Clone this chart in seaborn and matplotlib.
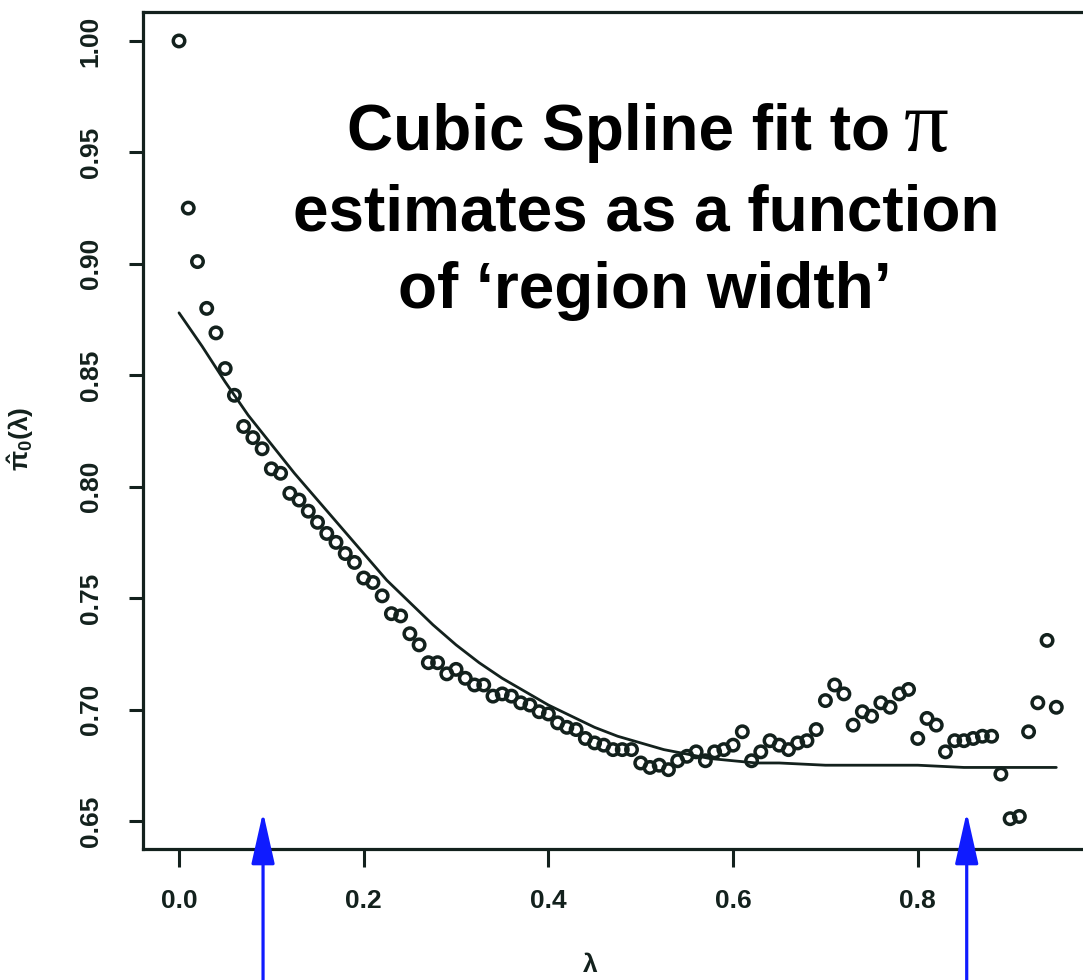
import numpy as np
import pandas as pd
import matplotlib
matplotlib.use("Agg")
import matplotlib.pyplot as plt
import seaborn as sns

# ---- data ----
lam = [round(0.01 * i, 2) for i in range(96)]
pi0_hat = [1.000, 0.925, 0.901, 0.880, 0.869, 0.853, 0.841, 0.827, 0.822, 0.817,
           0.808, 0.806, 0.797, 0.794, 0.789, 0.784, 0.779, 0.775, 0.770, 0.766,
           0.759, 0.757, 0.751, 0.743, 0.742, 0.734, 0.729, 0.721, 0.721, 0.716,
           0.718, 0.714, 0.711, 0.711, 0.706, 0.707, 0.706, 0.703, 0.702, 0.699,
           0.698, 0.694, 0.692, 0.691, 0.687, 0.685, 0.684, 0.682, 0.682, 0.682,
           0.676, 0.674, 0.675, 0.673, 0.677, 0.679, 0.681, 0.677, 0.681, 0.682,
           0.684, 0.690, 0.677, 0.681, 0.686, 0.684, 0.682, 0.685, 0.686, 0.691,
           0.704, 0.711, 0.707, 0.693, 0.699, 0.697, 0.703, 0.701, 0.707, 0.709,
           0.687, 0.696, 0.693, 0.681, 0.686, 0.686, 0.687, 0.688, 0.688, 0.671,
           0.651, 0.652, 0.690, 0.703, 0.731, 0.701]

spline_lam = [0.000, 0.025, 0.050, 0.075, 0.100, 0.125, 0.150, 0.175, 0.200, 0.225,
              0.250, 0.275, 0.300, 0.325, 0.350, 0.375, 0.400, 0.425, 0.450, 0.475,
              0.500, 0.525, 0.550, 0.575, 0.600, 0.625, 0.650, 0.700, 0.750, 0.800,
              0.850, 0.900, 0.950]
spline_fit = [0.878, 0.863, 0.847, 0.832, 0.819, 0.806, 0.794, 0.782, 0.770, 0.758,
              0.748, 0.738, 0.729, 0.721, 0.714, 0.708, 0.702, 0.697, 0.692, 0.688,
              0.685, 0.682, 0.680, 0.678, 0.677, 0.676, 0.676, 0.675, 0.675, 0.675,
              0.674, 0.674, 0.674]

x_ticks = [0.0, 0.2, 0.4, 0.6, 0.8]
x_tick_labels = ["0.0", "0.2", "0.4", "0.6", "0.8"]
y_ticks = [0.65, 0.70, 0.75, 0.80, 0.85, 0.90, 0.95, 1.00]
y_tick_labels = ["0.65", "0.70", "0.75", "0.80", "0.85", "0.90", "0.95", "1.00"]
arrow_lam = [0.091, 0.853]

title_lines = ["Cubic Spline fit to", "estimates as a function", "of \u2018region width\u2019"]
pi_symbol = "\u03c0"
x_label = "\u03bb"
y_label = r"$\hat{\mathrm{\pi}}_\mathrm{0}(\mathrm{\lambda})$"

# ---- styling ----
sns.set_theme(style="white")
plt.rcParams["font.family"] = ["Liberation Sans", "DejaVu Sans"]
plt.rcParams["mathtext.fontset"] = "custom"
plt.rcParams["mathtext.rm"] = "Liberation Sans:bold"
plt.rcParams["mathtext.it"] = "Liberation Sans:bold"
plt.rcParams["mathtext.bf"] = "Liberation Sans:bold"

ink = "#13211d"
W, H = 1083, 980
fig = plt.figure(figsize=(W / 100, H / 100), dpi=100)
fig.patch.set_facecolor("white")

left_px, right_px, top_px, bottom_px = 143, 1096, 12, 849
ax = fig.add_axes([left_px / W, 1 - bottom_px / H,
                   (right_px - left_px) / W, (bottom_px - top_px) / H])
ax.set_facecolor("white")

pts = pd.DataFrame({"lam": lam, "pi0": pi0_hat})
fit = pd.DataFrame({"lam": spline_lam, "pi0": spline_fit})

sns.lineplot(data=fit, x="lam", y="pi0", ax=ax, color=ink, linewidth=2.0,
             sort=False, zorder=2)
sns.scatterplot(data=pts, x="lam", y="pi0", ax=ax, marker="o", s=68,
                facecolor="none", edgecolor=ink, linewidth=2.5, zorder=3)

ax.set_xlim(-0.039, 0.993)
ax.set_ylim(0.6374, 1.013)

ax.set_xticks(x_ticks)
ax.set_xticklabels(x_tick_labels, fontsize=19, fontweight="bold", color=ink)
ax.set_yticks(y_ticks)
ax.set_yticklabels(y_tick_labels, fontsize=19, fontweight="bold", color=ink,
                   rotation=90, va="center")
ax.tick_params(axis="x", direction="out", length=13, width=2.2, color=ink, pad=16,
               bottom=True)
ax.tick_params(axis="y", direction="out", length=10, width=2.2, color=ink, pad=19,
               left=True)

for side in ["left", "bottom", "top"]:
    ax.spines[side].set_visible(True)
    ax.spines[side].set_color(ink)
    ax.spines[side].set_linewidth(2.3)
ax.spines["right"].set_visible(False)
ax.grid(False)

ax.set_xlabel(x_label, fontsize=19, color=ink, fontweight="bold")
ax.xaxis.set_label_coords((590 - left_px) / (right_px - left_px),
                          -(953 - bottom_px) / (bottom_px - top_px))
ax.set_ylabel(y_label, fontsize=19, color=ink)
ax.yaxis.set_label_coords(-(left_px - 36) / (right_px - left_px),
                          (bottom_px - 439) / (bottom_px - top_px))

# ---- title text ----
fig.text(890 / W, 1 - 150 / H, title_lines[0], ha="right", va="baseline",
         fontsize=46, fontweight="bold", color="black")
fig.text(904 / W, 1 - 151 / H, pi_symbol, ha="left", va="baseline",
         fontsize=64, family=["Liberation Serif", "DejaVu Serif"], color="black")
fig.text(646 / W, 1 - 230 / H, title_lines[1], ha="center", va="baseline",
         fontsize=46, fontweight="bold", color="black")
fig.text(645 / W, 1 - 308 / H, title_lines[2], ha="center", va="baseline",
         fontsize=46, fontweight="bold", color="black")

# ---- blue arrows ----
for xa in arrow_lam:
    ax.annotate("", xy=(xa, 0.654), xycoords="data",
                xytext=(xa, 0.0), textcoords=("data", "figure fraction"),
                annotation_clip=False,
                arrowprops=dict(arrowstyle="-|>,head_length=1.6,head_width=0.36",
                                mutation_scale=20, color="#0f1bff", lw=2.3,
                                shrinkA=0, shrinkB=0))

fig.savefig("out.png", dpi=100, facecolor="white")
